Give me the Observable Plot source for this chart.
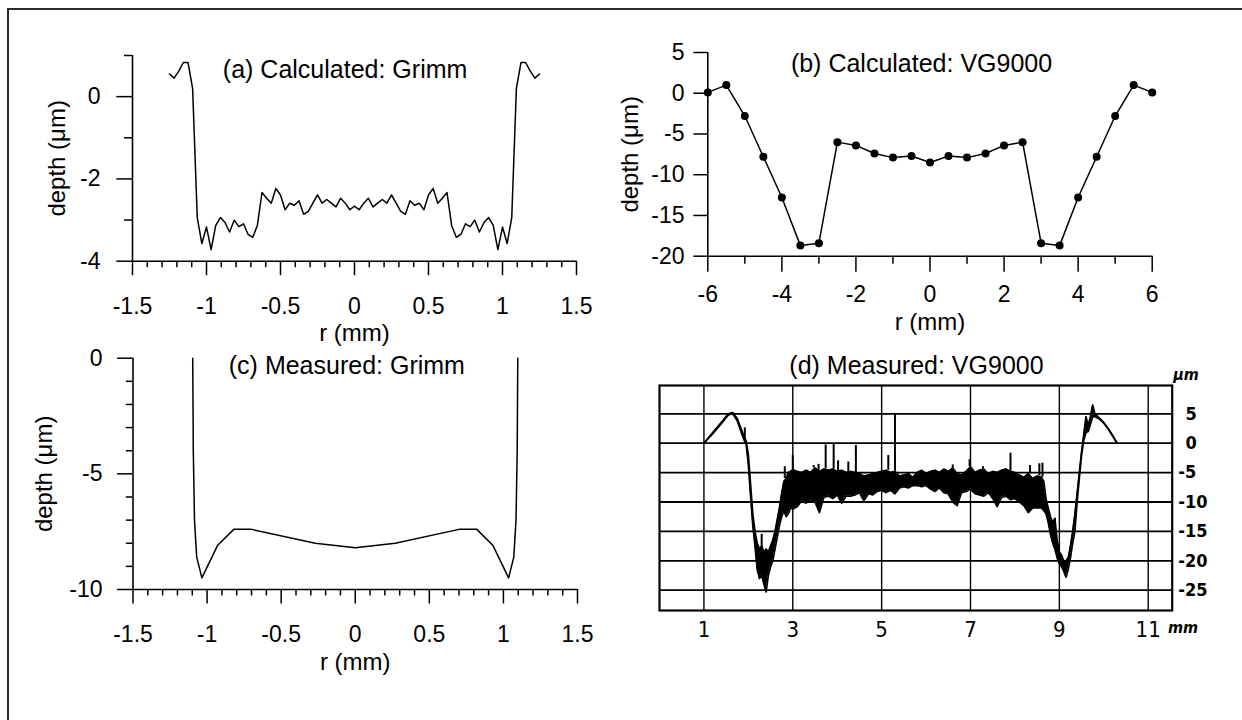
<!DOCTYPE html>
<html><head><meta charset="utf-8">
<script src="https://cdn.jsdelivr.net/npm/d3@7"></script>
<script src="https://cdn.jsdelivr.net/npm/@observablehq/plot@0.6"></script>
<style>
html,body{margin:0;padding:0;background:#fff;}
#page{position:relative;width:1242px;height:720px;overflow:hidden;background:#fff;}
#frame{position:absolute;left:7px;top:8px;width:2000px;height:2000px;border-left:2px solid #2a2a2a;border-top:2.5px solid #2a2a2a;}
.panel{position:absolute;}
.panel svg{overflow:visible;}
</style></head><body><div id="page"><div id="frame"></div></div>
<script>
const FONT = '"Liberation Sans", Arial, Helvetica, sans-serif';
const SCAN_FONT = '"DejaVu Sans Condensed", "Liberation Sans Narrow", "Arial Narrow", sans-serif';

// ---------- Panel (a) Calculated: Grimm ----------
const aTitle = "(a) Calculated: Grimm";
const aR = [-1.25, -1.2188, -1.1875, -1.1563, -1.125, -1.0938, -1.0625, -1.0313, -1, -0.9688, -0.9375, -0.9063, -0.875, -0.8438, -0.8125, -0.7813, -0.75, -0.7188, -0.6875, -0.6563, -0.625, -0.5938, -0.5625, -0.5313, -0.5, -0.4688, -0.4375, -0.4063, -0.375, -0.3438, -0.3125, -0.2813, -0.25, -0.2188, -0.1875, -0.1563, -0.125, -0.0938, -0.0625, -0.0313, 0, 0.0313, 0.0625, 0.0938, 0.125, 0.1563, 0.1875, 0.2188, 0.25, 0.2813, 0.3125, 0.3438, 0.375, 0.4063, 0.4375, 0.4688, 0.5, 0.5313, 0.5625, 0.5938, 0.625, 0.6563, 0.6875, 0.7188, 0.75, 0.7813, 0.8125, 0.8438, 0.875, 0.9063, 0.9375, 0.9688, 1, 1.0313, 1.0625, 1.0938, 1.125, 1.1563, 1.1875, 1.2188, 1.25];
const aDepth = [0.55, 0.45, 0.62, 0.83, 0.83, 0.2, -2.94, -3.57, -3.17, -3.72, -3.13, -2.94, -3.06, -3.29, -3.0, -3.16, -3.09, -3.35, -3.42, -3.13, -2.33, -2.47, -2.59, -2.23, -2.39, -2.75, -2.59, -2.64, -2.53, -2.86, -2.79, -2.59, -2.39, -2.59, -2.5, -2.59, -2.68, -2.47, -2.59, -2.75, -2.66, -2.75, -2.59, -2.47, -2.68, -2.59, -2.5, -2.59, -2.39, -2.59, -2.79, -2.86, -2.53, -2.64, -2.59, -2.75, -2.39, -2.23, -2.59, -2.47, -2.33, -3.13, -3.42, -3.35, -3.09, -3.16, -3.0, -3.29, -3.06, -2.94, -3.13, -3.72, -3.17, -3.57, -2.94, 0.2, 0.83, 0.83, 0.62, 0.45, 0.55];
const aXTicks = [-1.5, -1, -0.5, 0, 0.5, 1, 1.5];
const aXTickLabels = ["-1.5", "-1", "-0.5", "0", "0.5", "1", "1.5"];
const aXMinor = [-1.4, -1.3, -1.2, -1.1, -0.9, -0.8, -0.7, -0.6, -0.4, -0.3, -0.2, -0.1, 0.1, 0.2, 0.3, 0.4, 0.6, 0.7, 0.8, 0.9, 1.1, 1.2, 1.3, 1.4];
const aYTicks = [0, -2, -4];
const aYTickLabels = ["0", "-2", "-4"];
const aYMinor = [1, -1, -3];

// ---------- Panel (b) Calculated: VG9000 ----------
const bTitle = "(b) Calculated: VG9000";
const bR = [-6, -5.5, -5, -4.5, -4, -3.5, -3, -2.5, -2, -1.5, -1, -0.5, 0, 0.5, 1, 1.5, 2, 2.5, 3, 3.5, 4, 4.5, 5, 5.5, 6];
const bDepth = [0.1, 1.0, -2.8, -7.8, -12.8, -18.7, -18.4, -6.0, -6.4, -7.4, -7.9, -7.7, -8.5, -7.7, -7.9, -7.4, -6.4, -6.0, -18.4, -18.7, -12.8, -7.8, -2.8, 1.0, 0.1];
const bXTicks = [-6, -4, -2, 0, 2, 4, 6];
const bXTickLabels = ["-6", "-4", "-2", "0", "2", "4", "6"];
const bXMinor = [-5, -3, -1, 1, 3, 5];
const bYTicks = [5, 0, -5, -10, -15, -20];
const bYTickLabels = ["5", "0", "-5", "-10", "-15", "-20"];

// ---------- Panel (c) Measured: Grimm ----------
const cTitle = "(c) Measured: Grimm";
const cR = [-1.097, -1.093, -1.085, -1.07, -1.035, -0.93, -0.82, -0.7, -0.27, 0, 0.27, 0.7, 0.82, 0.93, 1.035, 1.07, 1.085, 1.093, 1.097];
const cDepth = [0, -4, -7, -8.6, -9.5, -8.1, -7.4, -7.4, -8.0, -8.2, -8.0, -7.4, -7.4, -8.1, -9.5, -8.6, -7, -4, 0];
const cYTicks = [0, -5, -10];
const cYTickLabels = ["0", "-5", "-10"];
const cYMinor = [-1, -2, -3, -4, -6, -7, -8, -9];

// ---------- Panel (d) Measured: VG9000 (scanned profile) ----------
const dTitle = "(d) Measured: VG9000";
const dX = [1.0, 1.2, 1.4, 1.55, 1.65, 1.75, 1.85, 1.9, 1.95,
  2.0, 2.05, 2.1, 2.15, 2.2, 2.25, 2.3, 2.35, 2.4, 2.45, 2.5, 2.55, 2.6, 2.65, 2.7, 2.75, 2.8, 2.85, 2.9, 2.95,
  3.0, 3.1, 3.2, 3.3, 3.4, 3.5, 3.6, 3.7, 3.8, 3.9, 4.0, 4.1, 4.2, 4.3, 4.4, 4.5, 4.6, 4.7, 4.8, 4.9, 5.0, 5.1, 5.2, 5.3, 5.4, 5.5, 5.6, 5.7, 5.8, 5.9, 6.0, 6.1, 6.2, 6.3, 6.4, 6.5, 6.6, 6.7, 6.8, 6.9, 7.0, 7.1, 7.2, 7.3, 7.4, 7.5, 7.6, 7.7, 7.8, 7.9, 8.0, 8.1, 8.2, 8.3, 8.4, 8.5, 8.6,
  8.65, 8.7, 8.75, 8.8, 8.85, 8.9, 8.95, 9.0, 9.05, 9.1, 9.15, 9.2, 9.25, 9.3, 9.35, 9.4, 9.45, 9.5, 9.55, 9.6, 9.65, 9.7, 9.75, 9.8,
  9.9, 10.0, 10.1, 10.2, 10.3];
const dTop = [0.0, 1.8, 3.6, 5.0, 5.2, 4.2, 2.2, 1.2, 0.4,
  -2.0, -7.0, -12.0, -15.0, -17.0, -18.0, -17.5, -18.5, -18.0, -18.5, -17.5, -16.5, -15.0, -13.0, -11.0, -8.5, -6.5, -6.0, -5.0, -4.8,
  -4.5, -4.8, -5.0, -4.6, -5.0, -4.2, -4.8, -4.4, -4.6, -4.4, -4.8, -4.6, -5.0, -4.8, -5.0, -5.2, -5.6, -5.4, -5.2, -5.0, -4.8, -4.6, -5.0, -4.8, -5.6, -5.4, -5.2, -5.8, -5.0, -4.6, -5.2, -4.8, -4.6, -5.0, -4.4, -4.8, -4.2, -5.2, -5.4, -4.8, -4.0, -5.0, -4.6, -4.4, -5.2, -4.8, -5.0, -4.6, -4.4, -4.8, -5.0, -5.4, -5.8, -5.2, -6.0, -5.6, -5.8,
  -6.5, -9.5, -11.0, -12.5, -13.5, -12.8, -16.5, -18.5, -19.0, -20.0, -20.0, -19.5, -17.5, -15.0, -12.0, -8.5, -5.0, -1.5, 1.5, 4.5, 3.0, 4.5, 6.5, 5.0,
  4.3, 3.5, 2.5, 1.3, 0.0];
const dBot = [0.0, 1.6, 3.4, 4.8, 5.0, 3.8, 1.6, 0.6, -0.2,
  -3.6, -9.0, -14.0, -17.5, -21.5, -23.0, -22.5, -24.0, -25.3, -22.5, -21.0, -20.0, -18.0, -16.0, -14.0, -12.5, -11.5, -12.5, -12.0, -11.0,
  -11.2, -10.8, -9.8, -10.2, -9.6, -10.0, -11.8, -9.2, -9.0, -9.4, -8.8, -10.2, -9.0, -9.0, -8.8, -8.4, -9.8, -8.6, -8.8, -8.2, -8.0, -8.4, -8.0, -8.6, -7.6, -7.4, -7.6, -7.2, -7.2, -7.4, -7.2, -7.8, -8.2, -7.6, -8.4, -8.6, -10.0, -10.6, -8.4, -8.2, -7.8, -8.6, -8.8, -9.0, -8.4, -9.4, -10.8, -9.2, -9.0, -9.6, -9.4, -10.0, -10.6, -11.8, -11.0, -11.0, -11.0,
  -11.5, -12.0, -13.5, -15.5, -17.0, -18.0, -19.5, -20.5, -21.0, -21.8, -22.8, -21.5, -19.5, -17.0, -15.0, -10.0, -6.0, -2.0, 0.5, 1.8, 2.0, 3.2, 4.5, 4.5,
  4.1, 3.4, 2.4, 1.2, 0.0];
const sX = [1.92, 2.3, 2.82, 3.0, 3.47, 3.58, 3.74, 3.92, 4.02, 4.25, 4.42, 5.15, 5.3, 6.6, 6.98, 7.28, 7.9, 8.34, 8.55, 8.62, 8.9];
const sBase = [0.6, -18.0, -6.0, -4.5, -4.2, -4.8, -4.4, -4.4, -4.8, -4.8, -5.0, -4.6, -4.8, -4.2, -4.0, -4.4, -4.8, -5.2, -5.6, -5.8, -14.0];
const sPeak = [2.6, -15.5, -4.0, -2.1, -3.8, -3.6, -0.3, -0.1, -3.0, -3.2, -0.4, -2.1, 5.0, -3.7, -2.8, -4.0, -1.7, -3.8, -3.5, -3.4, -12.8];
const dGridX = [1, 3, 5, 7, 9, 11];
const dXTickLabels = ["1", "3", "5", "7", "9", "11"];
const dGridY = [5, 0, -5, -10, -15, -20, -25];
const dYPos = [5, 0];
const dYPosLabels = ["5", "0"];
const dYNeg = [-5, -10, -15, -20, -25];
const dYNegLabels = ["-5", "-10", "-15", "-20", "-25"];

const xLabel = "r (mm)";
const yLabel = "depth (μm)";

const lab = (ticks, labels) => d => labels[ticks.indexOf(d)];
const blank = () => "";
const baseStyle = {fontFamily: FONT, fontSize: "23px", color: "#000", background: "transparent", overflow: "visible"};
const mid = {lineAnchor: "middle", textAnchor: "middle"};

function place(svg, left, top) {
  const div = document.createElement("div");
  div.className = "panel";
  div.style.left = left + "px";
  div.style.top = top + "px";
  div.appendChild(svg);
  document.getElementById("page").appendChild(div);
}

// (a)
place(Plot.plot({
  width: 621, height: 350,
  marginLeft: 132, marginRight: 45, marginTop: 55, marginBottom: 89.3,
  x: {domain: [-1.5, 1.5]}, y: {domain: [-4, 1]},
  style: baseStyle,
  marks: [
    Plot.axisX(aXMinor, {tickSize: 6.5, tickFormat: blank, strokeWidth: 1.5, label: null}),
    Plot.axisX(aXTicks, {tickSize: 14.5, tickPadding: 22, tickFormat: lab(aXTicks, aXTickLabels), strokeWidth: 1.5, fontSize: 23, label: null}),
    Plot.axisY(aYMinor, {tickSize: 8, tickFormat: blank, strokeWidth: 1.5, label: null}),
    Plot.axisY(aYTicks, {tickSize: 15.7, tickPadding: 16.3, tickFormat: lab(aYTicks, aYTickLabels), strokeWidth: 1.5, fontSize: 23, label: null}),
    Plot.ruleY([-4], {strokeWidth: 1.6}),
    Plot.ruleX([-1.5], {strokeWidth: 1.6}),
    Plot.line(aR.map((r, i) => ({r, depth: aDepth[i]})), {x: "r", y: "depth", stroke: "#000", strokeWidth: 1.5}),
    Plot.text([aTitle], {frameAnchor: "top", dx: -9.4, dy: 14, fontSize: 25, ...mid}),
    Plot.text([xLabel], {frameAnchor: "bottom", dy: 72, fontSize: 24, ...mid}),
    Plot.text([yLabel], {frameAnchor: "left", rotate: -90, dx: -75.5, fontSize: 24, ...mid})
  ]
}), 0, 0);

// (b)
place(Plot.plot({
  width: 621, height: 350,
  marginLeft: 86.3, marginRight: 90.3, marginTop: 52, marginBottom: 94.3,
  x: {domain: [-6, 6]}, y: {domain: [-20, 5]},
  style: baseStyle,
  marks: [
    Plot.axisX(bXMinor, {tickSize: 8, tickFormat: blank, strokeWidth: 1.5, label: null}),
    Plot.axisX(bXTicks, {tickSize: 16, tickPadding: 13.3, tickFormat: lab(bXTicks, bXTickLabels), strokeWidth: 1.5, fontSize: 23, label: null}),
    Plot.axisY(bYTicks, {tickSize: 14, tickPadding: 9.3, tickFormat: lab(bYTicks, bYTickLabels), strokeWidth: 1.5, fontSize: 23, label: null}),
    Plot.ruleY([-20], {strokeWidth: 1.6}),
    Plot.ruleX([-6], {strokeWidth: 1.6}),
    Plot.line(bR.map((r, i) => ({r, depth: bDepth[i]})), {x: "r", y: "depth", stroke: "#000", strokeWidth: 1.5}),
    Plot.dot(bR.map((r, i) => ({r, depth: bDepth[i]})), {x: "r", y: "depth", r: 4, fill: "#000", stroke: "none"}),
    Plot.text([bTitle], {frameAnchor: "top", dx: -8.5, dy: 11.6, fontSize: 25, ...mid}),
    Plot.text([xLabel], {frameAnchor: "bottom", dy: 66, fontSize: 24, ...mid}),
    Plot.text([yLabel], {frameAnchor: "left", rotate: -90, dx: -77.6, fontSize: 24, ...mid})
  ]
}), 621, 0);

// (c)
place(Plot.plot({
  width: 621, height: 370,
  marginLeft: 132.5, marginRight: 44, marginTop: 7.7, marginBottom: 131,
  x: {domain: [-1.5, 1.5]}, y: {domain: [-10, 0]},
  style: baseStyle,
  marks: [
    Plot.axisX(aXMinor, {tickSize: 6.5, tickFormat: blank, strokeWidth: 1.5, label: null}),
    Plot.axisX(aXTicks, {tickSize: 14.5, tickPadding: 22, tickFormat: lab(aXTicks, aXTickLabels), strokeWidth: 1.5, fontSize: 23, label: null}),
    Plot.axisY(cYMinor, {tickSize: 6.7, tickFormat: blank, strokeWidth: 1.5, label: null}),
    Plot.axisY(cYTicks, {tickSize: 15.4, tickPadding: 15.1, tickFormat: lab(cYTicks, cYTickLabels), strokeWidth: 1.5, fontSize: 23, label: null}),
    Plot.ruleY([-10], {strokeWidth: 1.6}),
    Plot.ruleX([-1.5], {strokeWidth: 1.6}),
    Plot.line(cR.map((r, i) => ({r, depth: cDepth[i]})), {x: "r", y: "depth", stroke: "#000", strokeWidth: 1.5}),
    Plot.text([cTitle], {frameAnchor: "top", dx: -8.4, dy: 8, fontSize: 25, ...mid}),
    Plot.text([xLabel], {frameAnchor: "bottom", dy: 72.6, fontSize: 24, ...mid}),
    Plot.text([yLabel], {frameAnchor: "left", rotate: -90, dx: -89, fontSize: 24, ...mid})
  ]
}), 0, 350);

// (d)
const dRows = dX.map((x, i) => ({x, top: dTop[i], bot: dBot[i]}));
const sRows = sX.map((x, i) => ({x, base: sBase[i], peak: sPeak[i]}));
place(Plot.plot({
  width: 621, height: 370,
  marginLeft: 38, marginRight: 70.3, marginTop: 35, marginBottom: 110,
  x: {domain: [0, 11.54]}, y: {domain: [-28.45, 9.81]},
  style: baseStyle,
  marks: [
    Plot.ruleY(dGridY, {stroke: "#000", strokeWidth: 1.8}),
    Plot.ruleX(dGridX, {stroke: "#000", strokeWidth: 1.4}),
    Plot.frame({stroke: "#000", strokeWidth: 2.2}),
    Plot.areaY(dRows, {x: "x", y1: "bot", y2: "top", fill: "#000"}),
    Plot.line(dRows, {x: "x", y: "top", stroke: "#000", strokeWidth: 1.7}),
    Plot.line(dRows, {x: "x", y: "bot", stroke: "#000", strokeWidth: 1.7}),
    Plot.ruleX(sRows, {x: "x", y1: "base", y2: "peak", stroke: "#000", strokeWidth: 2}),
    Plot.axisX(dGridX, {tickSize: 0, tickPadding: 10.5, tickFormat: lab(dGridX, dXTickLabels), fontFamily: SCAN_FONT, fontSize: 22, label: null}),
    Plot.axisY(dYPos, {anchor: "right", tickSize: 0, tickPadding: 13.3, tickFormat: lab(dYPos, dYPosLabels), fontFamily: SCAN_FONT, fontSize: 18, fontWeight: "bold", label: null}),
    Plot.axisY(dYNeg, {anchor: "right", tickSize: 0, tickPadding: 6, tickFormat: lab(dYNeg, dYNegLabels), fontFamily: SCAN_FONT, fontSize: 18, fontWeight: "bold", label: null}),
    Plot.text(["mm"], {frameAnchor: "bottom-right", dx: 10.8, dy: 17.5, fontFamily: SCAN_FONT, fontStyle: "italic", fontWeight: "bold", fontSize: 16, ...mid}),
    Plot.text(["μm"], {frameAnchor: "top-right", dx: 13.8, dy: -11, fontFamily: SCAN_FONT, fontStyle: "italic", fontWeight: "bold", fontSize: 16, ...mid}),
    Plot.text([dTitle], {frameAnchor: "top", dx: 0.6, dy: -20, fontSize: 25, ...mid})
  ]
}), 621, 350);
</script></body></html>
